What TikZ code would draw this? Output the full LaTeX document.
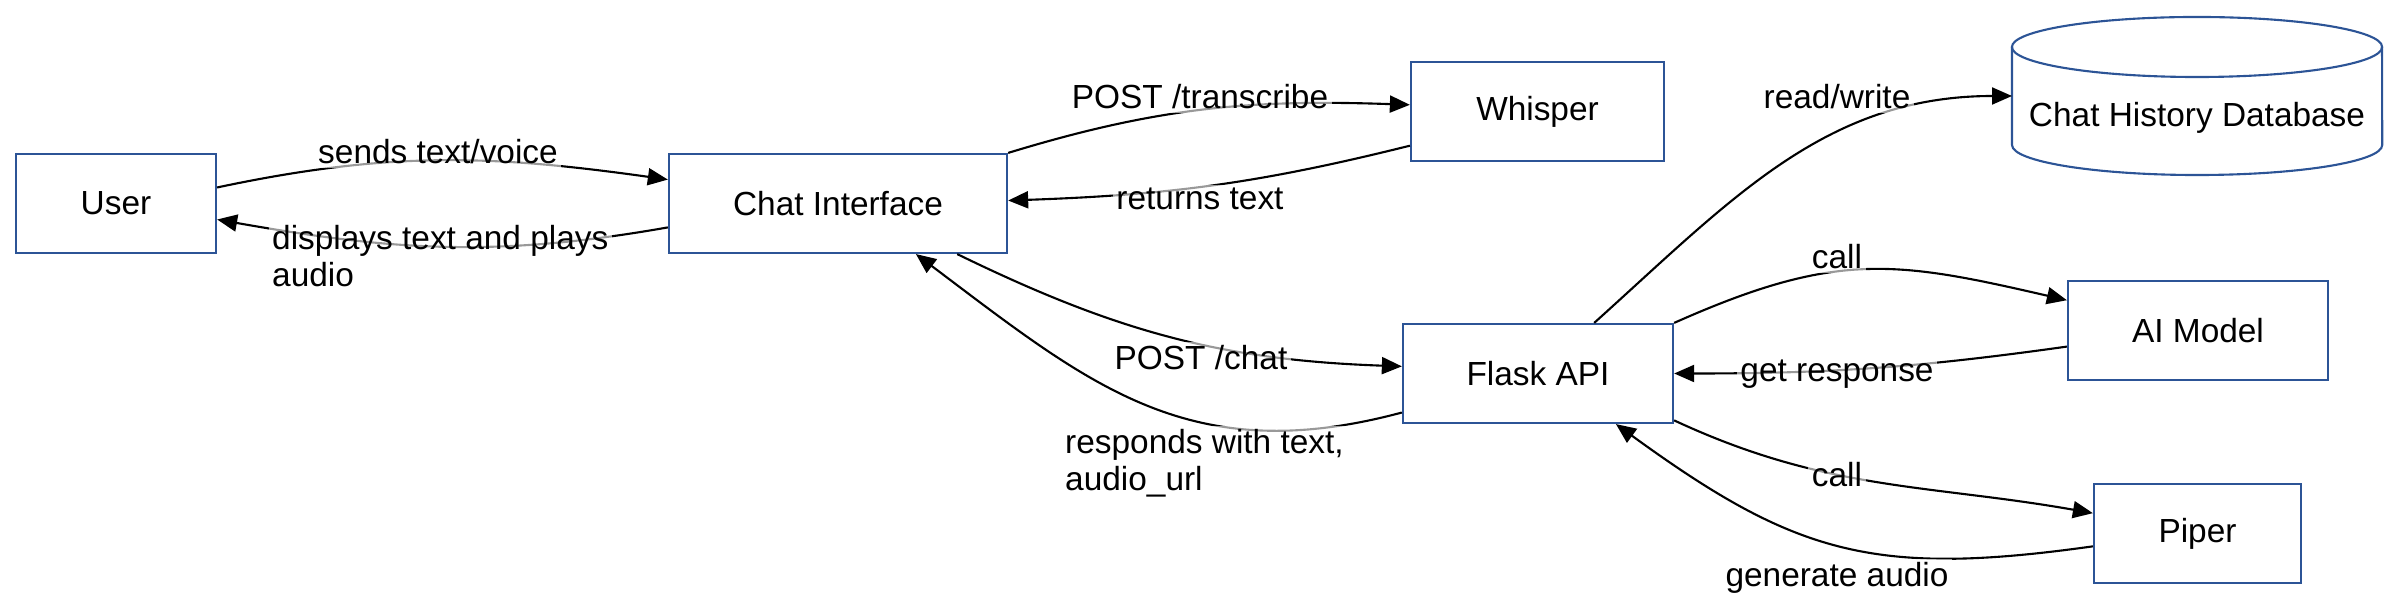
\documentclass[tikz,border=0pt]{standalone}
\usepackage{fontspec}
\setmainfont{Liberation Sans}
\usetikzlibrary{arrows.meta}
\definecolor{boxblue}{RGB}{44,84,150}
\tikzset{
	box/.style = {draw = boxblue, line width = 0.6pt, minimum height = 0.99cm},
	flow/.style = {line width = 0.6pt, -{Triangle[length = 2mm, width = 1.7mm]}},
	lbl/.style = {fill = white, fill opacity = 0.6, text opacity = 1, inner sep = 1pt}
}

\begin{document}
\begin{tikzpicture}[x = 0.01cm, y = -0.01cm, font = \fontsize{9.5}{10.5}\selectfont]
	\useasboundingbox (0,0) rectangle (2400,616);
	\node[box, minimum width = 2cm] (user) at (116,203.5) {User};
	\node[box, minimum width = 3.38cm] (chat) at (838,203.5) {Chat Interface};
	\node[box, minimum width = 2.53cm] (whisper) at (1537.5,111.5) {Whisper};
	\node[box, minimum width = 2.7cm] (flask) at (1538,373.5) {Flask API};
	\node[box, minimum width = 2.6cm] (ai) at (2198,330.5) {AI Model};
	\node[box, minimum width = 2.07cm] (piper) at (2197.5,533.5) {Piper};
	% database cylinder
	\draw[boxblue, line width = 0.6pt] (2012,47) -- (2012,145) arc[start angle = 180, end angle = 360, x radius = 1.85cm, y radius = 0.3cm] -- (2382,47);
	\draw[boxblue, line width = 0.6pt] (2197,47) ellipse[x radius = 1.85cm, y radius = 0.3cm];
	\node (db) at (2197,118) {Chat History Database};
	\coordinate (dbin) at (2012,96);
	% connectors
	\draw[flow] (user.9) to[out = 12, in = 172] (chat.172);
	\draw[flow] (chat.188) to[out = 190, in = -10] (user.-9);
	\draw[flow] (chat.north east) to[out = 17, in = 178] (whisper.177);
	\draw[flow] (whisper.195) to[out = 194, in = 2] (chat.1);
	\draw[flow] (chat.-23) to[out = -26, in = 178] (flask.177);
	\draw[flow] (flask.196) to[out = 195, in = -37, looseness = 1.1] (chat.-33);
	\draw[flow] (flask.42) to[out = 42, in = 180] (dbin);
	\draw[flow] (flask.north east) to[out = 24, in = 167, looseness = 1.15] (ai.167);
	\draw[flow] (ai.187) to[out = 188, in = 0] (flask.east);
	\draw[flow] (flask.-19) to[out = -25, in = 170] (piper.169);
	\draw[flow] (piper.187) to[out = 188, in = -36, looseness = 1.15] (flask.-33);
	% labels
	\node[lbl] (lsend) at (438,152) {sends text/voice};
	\node[lbl, anchor = west, align = left] (ldisp) at (268,256) {displays text and plays\\audio};
	\node[lbl] (ltrans) at (1200,97) {POST /transcribe};
	\node[lbl] (lret) at (1200,199) {returns text};
	\node[lbl] (lchat) at (1201,358) {POST /chat};
	\node[lbl, anchor = west, align = left] (lresp) at (1061,463) {responds with text,\\audio\_url};
	\node[lbl] (lrw) at (1837,97) {read/write};
	\node[lbl] (lcall) at (1837,257) {call};
	\node[lbl] (lget) at (1837,374) {get response};
	\node[lbl] (lcall2) at (1837,475) {call};
	\node[lbl] (lgen) at (1837,578) {generate audio};
\end{tikzpicture}
\end{document}
